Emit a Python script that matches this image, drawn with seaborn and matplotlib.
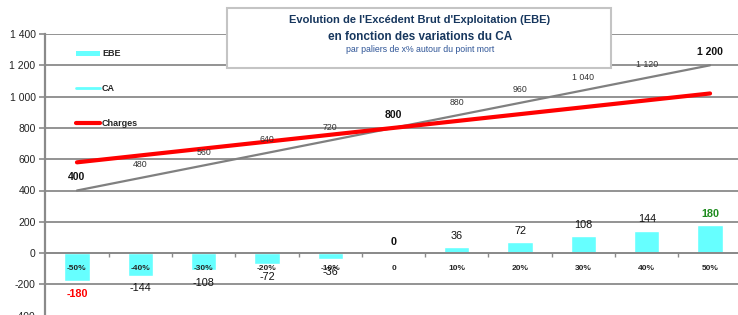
import matplotlib
matplotlib.use("Agg")
import pandas as pd
import seaborn as sns
from matplotlib import pyplot as plt
from matplotlib.lines import Line2D
from matplotlib.patches import Patch, Rectangle

# data
paliers = ["-50%", "-40%", "-30%", "-20%", "-10%", "0", "10%", "20%", "30%", "40%", "50%"]
ca = [400, 480, 560, 640, 720, 800, 880, 960, 1040, 1120, 1200]
charges = [580, 624, 668, 712, 756, 800, 844, 888, 932, 976, 1020]
ebe = [-180, -144, -108, -72, -36, 0, 36, 72, 108, 144, 180]
y_ticks = [-400, -200, 0, 200, 400, 600, 800, 1000, 1200, 1400]

title_1 = "Evolution de l'Excédent Brut d'Exploitation (EBE)"
title_2 = "en fonction des variations du CA"
subtitle = "par paliers de x% autour du point mort"

GRID = "#8a8a8a"
CYAN = "#66FFFF"
NAVY = "#17375E"


def fmt(v):
    return f"{v:,.0f}".replace(",", " ")


df = pd.DataFrame({"palier": paliers, "CA": ca, "Charges": charges, "EBE": ebe})

sns.set_style("white")
plt.rcParams["font.family"] = ["Liberation Sans", "DejaVu Sans"]

fig = plt.figure(figsize=(7.38, 3.15), dpi=100)
ax = fig.add_axes([45.3 / 738, -0.7 / 315, 696.4 / 738, 281.7 / 315])

# bars sit under the axis so the % labels show on top of them
sns.barplot(data=df, x="palier", y="EBE", color=CYAN, saturation=1,
            width=0.4, ax=ax, zorder=0.4)
sns.lineplot(data=df, x="palier", y="CA", sort=False, color="#808080",
             lw=1.6, ax=ax, zorder=4)
sns.lineplot(data=df, x="palier", y="Charges", sort=False, color="#FF0000",
             lw=3.0, ax=ax, zorder=5)

ax.set_xlim(-0.5, len(paliers) - 0.5)
ax.set_ylim(y_ticks[0], y_ticks[-1])
ax.set_yticks(y_ticks)
ax.set_yticklabels([fmt(v) for v in y_ticks], fontsize=7.5, color="#222222")
ax.set_xlabel("")
ax.set_ylabel("")

ax.yaxis.grid(True, color=GRID, lw=1.3)
ax.set_axisbelow(True)
for s in ["top", "right"]:
    ax.spines[s].set_visible(False)
ax.spines["left"].set_color(GRID)
ax.spines["left"].set_linewidth(1.6)
ax.spines["bottom"].set_position(("data", 0))
ax.spines["bottom"].set_color(GRID)
ax.spines["bottom"].set_linewidth(1.3)

ax.tick_params(axis="y", length=4, width=1.2, color=GRID, pad=3, left=True)
ax.tick_params(axis="x", which="major", length=0, pad=8.5, labelsize=6)
ax.set_xticks([i + 0.5 for i in range(len(paliers) - 1)], minor=True)
ax.tick_params(axis="x", which="minor", length=3, width=1, color=GRID,
               bottom=True, direction="out")
for lab in ax.get_xticklabels():
    lab.set_fontweight("bold")

# CA labels
last = len(ca) - 1
for i, v in enumerate(ca):
    strong = i in (0, last // 2, last)
    ax.annotate(fmt(v), (i, v), xytext=(0, 9.5), textcoords="offset points",
                ha="center", va="center", zorder=6,
                fontsize=7.5 if strong else 6.3,
                fontweight="bold" if strong else "normal",
                color="#111111" if strong else "#333333")

# EBE labels
for i, v in enumerate(ebe):
    dy = -9.2 if v < 0 else 8
    color, weight = "#111111", "normal"
    if i == 0:
        color, weight = "#FF0000", "bold"
    elif i == last:
        color, weight = "#1E8C1E", "bold"
    elif v == 0:
        weight = "bold"
    ax.annotate(fmt(v), (i, v), xytext=(0, dy), textcoords="offset points",
                ha="center", va="center", fontsize=7.8, color=color,
                fontweight=weight, zorder=6)

handles = [
    Patch(facecolor=CYAN, edgecolor="none"),
    Line2D([], [], color=CYAN, lw=2),
    Line2D([], [], color="#FF0000", lw=3),
]
leg = ax.legend(handles, ["EBE", "CA", "Charges"], loc="upper left",
                bbox_to_anchor=(0.0445, 0.945), frameon=False, borderpad=0,
                borderaxespad=0, handlelength=2.6, handleheight=0.55,
                handletextpad=0.25, labelspacing=2.85,
                prop={"size": 6.5, "weight": "bold"})

# title box
box = Rectangle((227 / 738, 1 - 68 / 315), 384 / 738, 60 / 315,
                transform=fig.transFigure, figure=fig, facecolor="white",
                edgecolor="#C4C4C4", lw=1.5, zorder=5)
fig.patches.append(box)
cx = 420 / 738
fig.text(cx, 1 - 20 / 315, title_1, ha="center", va="center", fontsize=8,
         fontweight="bold", color=NAVY, zorder=6)
fig.text(cx, 1 - 36.5 / 315, title_2, ha="center", va="center", fontsize=8.5,
         fontweight="bold", color=NAVY, zorder=6)
fig.text(cx, 1 - 50 / 315, subtitle, ha="center", va="center", fontsize=6.3,
         color="#2F5597", zorder=6)

fig.savefig("out.png", dpi=100)
